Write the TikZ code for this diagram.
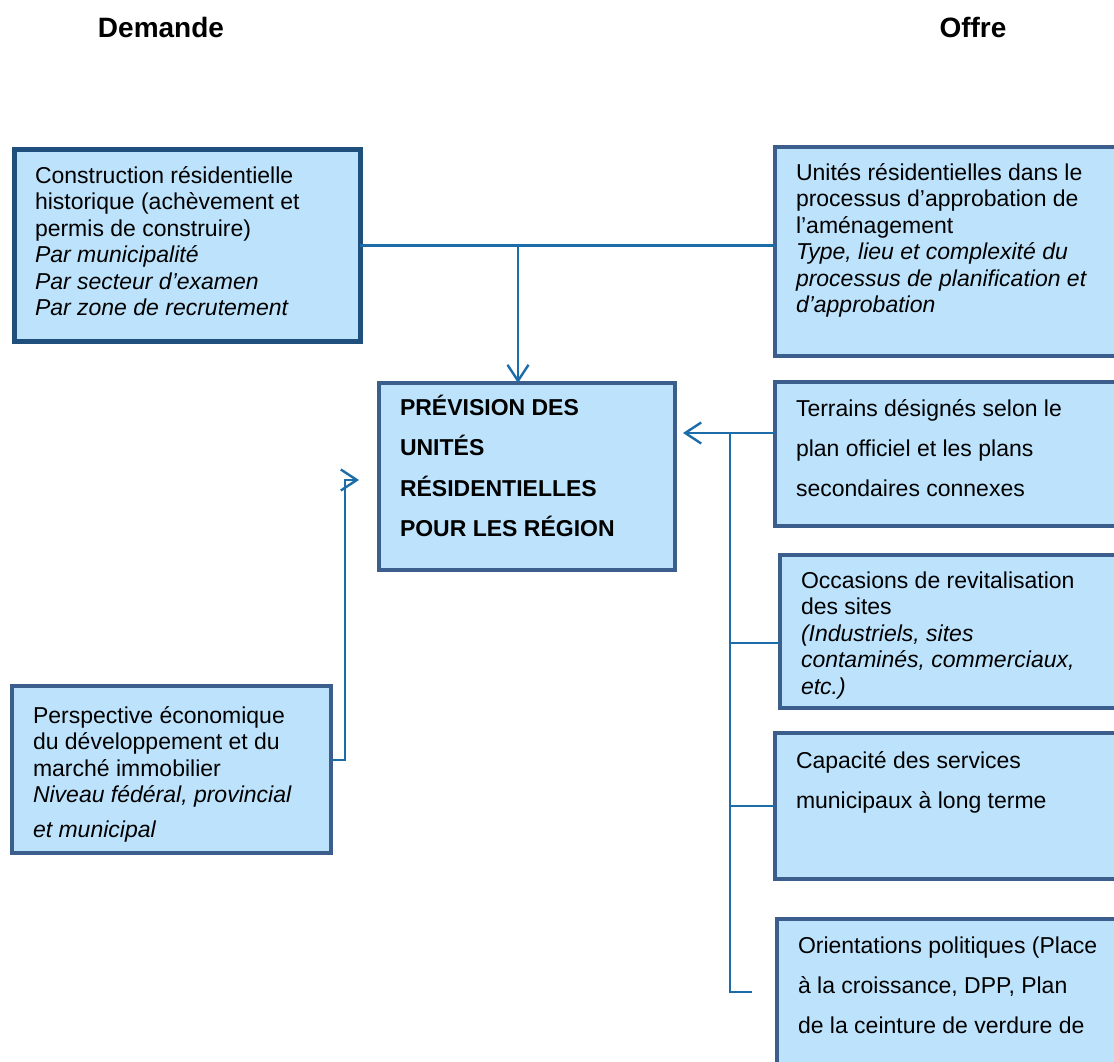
\documentclass[tikz,border=0pt]{standalone}
\usepackage{fontspec}
\setmainfont{Liberation Sans}
\usetikzlibrary{arrows.meta}

\definecolor{boxfill}{HTML}{BDE3FC}
\definecolor{boxline}{HTML}{3B5E8C}
\definecolor{boxdark}{HTML}{1E4F7D}
\definecolor{linkblue}{HTML}{1C6CAA}

% text block inside a box: [first baseline]{width}{height}{lines}
\newcommand{\boxtxt}[4][33]{\parbox[t][#3pt][t]{#2pt}{\raggedright\rule{0pt}{#1pt}#4}}

\begin{document}
\begin{tikzpicture}[x=1pt,y=-1pt,
    >={Straight Barb[length=16pt,width=21pt]},
    box/.style={draw=boxline,fill=boxfill,line width=4.5pt,anchor=north west,
      inner xsep=21pt,inner ysep=0pt,outer sep=0pt,
      font=\fontsize{23}{26.5}\selectfont},
    airy/.style={font=\fontsize{23}{40}\selectfont},
    head/.style={anchor=base,font=\fontsize{28}{34}\selectfont\bfseries},
    link/.style={draw=linkblue,line width=2.4pt}]

  \useasboundingbox (0,0) rectangle (1114,1062);
  \clip (0,0) rectangle (1114,1062);

  \node[head] (dem) at (161,38) {Demande};
  \node[head] (off) at (973,38) {Offre};

  \begin{scope}[every node/.style={box}]
    \node[draw=boxdark,line width=5pt] (hist) at (14,150) {\boxtxt{304}{191}{%
      Construction résidentielle\\ historique (achèvement et\\ permis de construire)\\
      \textit{Par municipalité}\\ \textit{Par secteur d’examen}\\ \textit{Par zone de recrutement}}};
    \node (appr) at (775,147) {\boxtxt{318}{209}{%
      Unités résidentielles dans le\\ processus d’approbation de\\ l’aménagement\\
      \textit{Type, lieu et complexité du}\\ \textit{processus de planification et}\\ \textit{d’approbation}}};
    \node[font={\fontsize{23}{40.5}\selectfont\bfseries}] (prev) at (379,383) {\boxtxt[32]{254}{187}{%
      PRÉVISION DES\\ UNITÉS\\ RÉSIDENTIELLES\\ POUR LES RÉGION}};
    \node[airy] (terr) at (775,382) {\boxtxt[34]{318}{144}{%
      Terrains désignés selon le\\ plan officiel et les plans\\ secondaires connexes}};
    \node (revit) at (780,555) {\boxtxt{313}{153}{%
      Occasions de revitalisation\\ des sites\\ \textit{(Industriels, sites}\\
      \textit{contaminés, commerciaux,}\\ \textit{etc.)}}};
    \node[airy] (serv) at (775,733) {\boxtxt[35]{318}{146}{%
      Capacité des services\\ municipaux à long terme}};
    \node[airy] (orient) at (777,919) {\boxtxt[34]{316}{200}{%
      Orientations politiques (Place\\ à la croissance, DPP, Plan\\ de la ceinture de verdure de}};
    \node (persp) at (12,686) {\boxtxt[37]{277}{167}{%
      Perspective économique\\ du développement et du\\ marché immobilier\\
      \textit{Niveau fédéral, provincial}\\[8pt] \textit{et municipal}}};
  \end{scope}

  \coordinate (jtop) at (518,245.5);
  \coordinate (cin) at (683,433);
  \coordinate (bustop) at (730,433);
  \coordinate (busend) at (752,992);
  \coordinate (lbend) at (345,480);
  \coordinate (lin) at (359,480);

  \draw[link] (hist.east) -- (hist.east -| appr.west);
  \draw[link,->] (jtop) -- (jtop |- prev.north);
  \draw[link,->] (terr.west |- cin) -- (cin);
  \draw[link] (bustop) |- (busend);
  \draw[link] ([yshift=-11.5pt]revit.west) -- ([yshift=-11.5pt]revit.west -| bustop);
  \draw[link] (serv.west) -- (serv.west -| bustop);
  \draw[link,->] ([yshift=9.5pt]persp.east) -| (lbend) -- (lin);

\end{tikzpicture}
\end{document}
